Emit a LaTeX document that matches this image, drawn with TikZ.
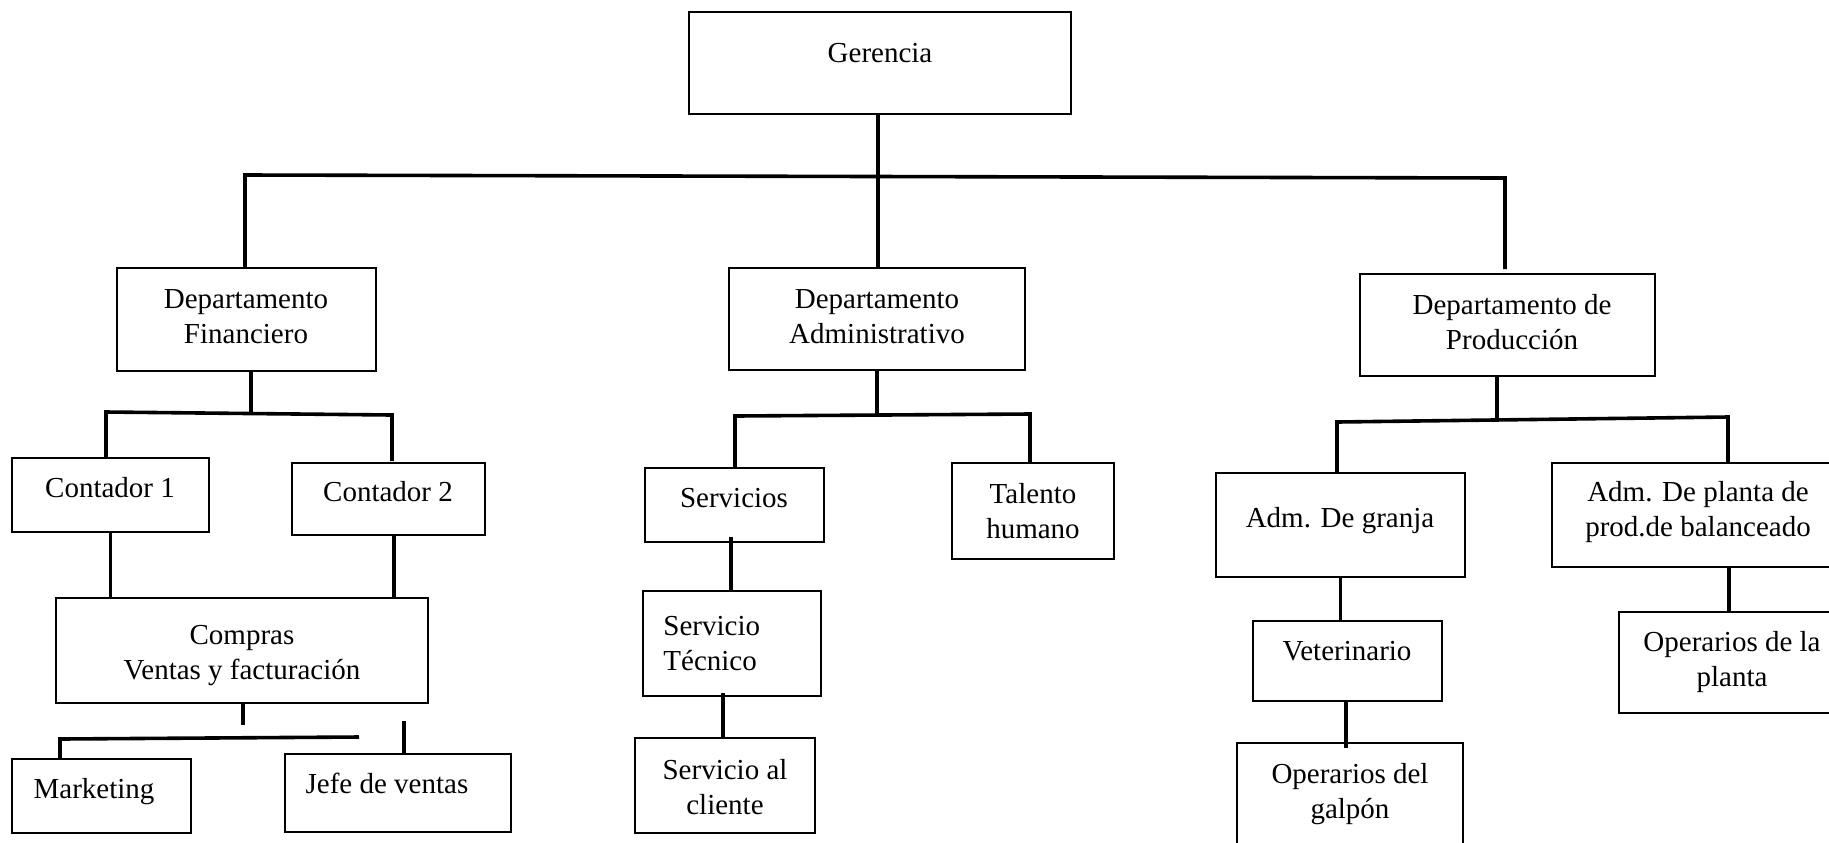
\documentclass[tikz,border=0pt]{standalone}
\usepackage{fontspec}
\setmainfont{Liberation Serif}
\begin{document}
\begin{tikzpicture}[x=0.5pt,y=-0.5pt,
  box/.style={draw,line width=1.1pt,inner sep=0pt},
  lbl/.style={inner sep=0pt,align=center,font=\fontsize{14.5}{17.5}\selectfont},
  link/.style={line width=1.8pt,line join=miter}]

\useasboundingbox (0,0) rectangle (1829,842);
\fill[white] (0,0) rectangle (1829,842);
\clip (0,0) rectangle (1829,842);

% ---- boxes ----
\node[box,minimum width=191pt,minimum height=51pt]     (ger)    at (880,63) {};
\node[box,minimum width=129.5pt,minimum height=51.5pt] (fin)    at (246.5,319.5) {};
\node[box,minimum width=148pt,minimum height=51pt]     (adm)    at (877,319) {};
\node[box,minimum width=147.5pt,minimum height=51pt]   (prod)   at (1507.5,325) {};
\node[box,minimum width=98.5pt,minimum height=37pt]    (c1)     at (110.5,495) {};
\node[box,minimum width=96.5pt,minimum height=36pt]    (c2)     at (388.5,499) {};
\node[box,minimum width=186pt,minimum height=52.5pt]   (comp)   at (242,650.5) {};
\node[box,minimum width=89.5pt,minimum height=37pt]    (mkt)    at (101.5,796) {};
\node[box,minimum width=113pt,minimum height=39pt]     (jefe)   at (398,793) {};
\node[box,minimum width=89.5pt,minimum height=37pt]    (serv)   at (734.5,505) {};
\node[box,minimum width=89pt,minimum height=52.5pt]    (stec)   at (732,643.5) {};
\node[box,minimum width=90pt,minimum height=47.5pt]    (scli)   at (725,785.5) {};
\node[box,minimum width=81pt,minimum height=48pt]      (tal)    at (1033,511) {};
\node[box,minimum width=124.5pt,minimum height=52pt]   (granja) at (1340.5,525) {};
\node[box,minimum width=146pt,minimum height=52pt]     (planta) at (1698,515) {};
\node[box,minimum width=94.5pt,minimum height=40pt]    (vet)    at (1347.5,661) {};
\node[box,minimum width=113pt,minimum height=58.5pt]   (gal)    at (1350,801.5) {};
\node[box,minimum width=113pt,minimum height=50.5pt]   (oppl)   at (1732,662.5) {};

% ---- texts ----
\node[lbl] (ger-t)    at (880,53)      {Gerencia};
\node[lbl] (fin-t)    at (246,317)     {Departamento\\Financiero};
\node[lbl] (adm-t)    at (877,317)     {Departamento\\Administrativo};
\node[lbl] (prod-t)   at (1512,322)    {Departamento de\\Producción};
\node[lbl] (c1-t)     at (110,488)     {Contador 1};
\node[lbl] (c2-t)     at (388,492)     {Contador 2};
\node[lbl] (comp-t)   at (242,656)     {Compras\\Ventas y facturación};
\node[lbl] (mkt-t)    at (94,792)      {Marketing};
\node[lbl] (jefe-t)   at (387,783)     {Jefe de ventas};
\node[lbl] (serv-t)   at (734,498)     {Servicios};
\node[lbl,align=left,anchor=west] (stec-t) at (663,644) {Servicio\\Técnico};
\node[lbl] (scli-t)   at (725,787.5)   {Servicio al\\cliente};
\node[lbl] (tal-t)    at (1033,511.5)  {Talento\\humano};
\node[lbl] (granja-t) at (1340,521)    {Adm. De granja};
\node[lbl] (planta-t) at (1698,512.5)  {Adm. De planta de\\prod.de balanceado};
\node[lbl] (vet-t)    at (1347,651)    {Veterinario};
\node[lbl] (gal-t)    at (1350,794)    {Operarios del\\galpón};
\node[lbl] (oppl-t)   at (1732,662)    {Operarios de la\\planta};

% ---- junction points ----
\coordinate (gL) at (245,175);
\coordinate (gM) at (878,176);
\coordinate (gR) at (1505,178);
\coordinate (pTop) at (1505,269);
\coordinate (fJ) at (251,413);
\coordinate (fa) at (106,412);
\coordinate (fb) at (392,415);
\coordinate (fbE) at (392,461);
\coordinate (cs) at (243,725);
\coordinate (ma) at (60,739);
\coordinate (mb) at (359,737);
\coordinate (js) at (404,721);
\coordinate (aJ) at (877,414);
\coordinate (aa) at (735,416);
\coordinate (ab) at (1030,414);
\coordinate (sv) at (731,537);
\coordinate (st) at (723,693);
\coordinate (pJ) at (1497,422);
\coordinate (pa) at (1337,422);
\coordinate (pb) at (1728,417);
\coordinate (vt) at (1346,748);
\coordinate (op) at (1729,612);

% ---- connectors ----
% Gerencia level
\draw[link] (gL |- fin.north) -- (gL) -- (gR) -- (pTop);
\draw[link] (ger.south -| gM) -- (gM |- adm.north);

% Departamento Financiero branch
\draw[link] (fin.south -| fJ) -- (fJ);
\draw[link] (fa |- c1.north) -- (fa) -- (fb) -- (fbE);
\draw[link] (c1.south) -- (c1.south |- comp.north);
\draw[link] ([xshift=2.75pt]c2.south) -- ([xshift=2.75pt]c2.south |- comp.north);
\draw[link] (comp.south -| cs) -- (cs);
\draw[link] (ma |- mkt.north) -- (ma) -- (mb);
\draw[link] (js) -- (js |- jefe.north);

% Departamento Administrativo branch
\draw[link] (adm.south) -- (aJ);
\draw[link] (aa |- serv.north) -- (aa) -- (ab) -- (ab |- tal.north);
\draw[link] (sv) -- (sv |- stec.north);
\draw[link] (st) -- (st |- scli.north);

% Departamento de Produccion branch
\draw[link] (prod.south -| pJ) -- (pJ);
\draw[link] (pa |- granja.north) -- (pa) -- (pb) -- (pb |- planta.north);
\draw[link] (granja.south) -- (granja.south |- vet.north);
\draw[link] (vet.south -| vt) -- (vt);
\draw[link] (planta.south -| op) -- (op |- oppl.north);
\end{tikzpicture}
\end{document}
